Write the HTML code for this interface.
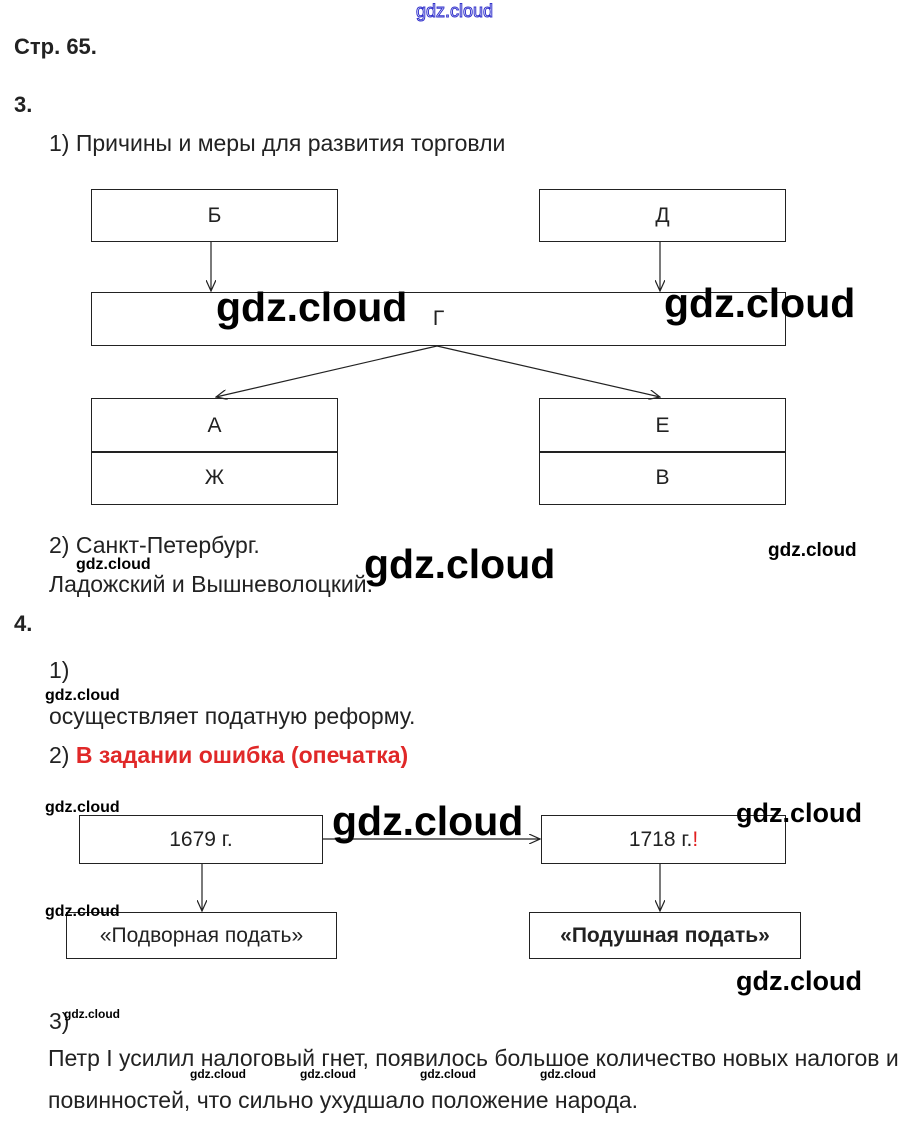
<!DOCTYPE html>
<html><head><meta charset="utf-8"><style>
body{margin:0;width:908px;height:1125px;background:#fff;position:relative;font-family:"Liberation Sans",Arial,sans-serif;color:#222;overflow:hidden}
.t{position:absolute;white-space:nowrap;font-size:23px;line-height:1}
.b{font-weight:bold}
.w{position:absolute;white-space:nowrap;font-weight:bold;color:#000;line-height:1;font-family:"Liberation Sans",sans-serif}
.big{font-size:41px}
.sm{font-size:16px}
.xs{font-size:12px}
.box{position:absolute;border:1.5px solid #222;box-sizing:border-box;display:flex;align-items:center;justify-content:center;font-size:21px}
svg{position:absolute;left:0;top:0}
</style></head><body>
<div class="t" style="left:416px;top:2px;font-size:18px;color:#fff;-webkit-text-stroke:1px #3333cc">gdz.cloud</div>
<div class="t b" style="left:14px;top:36px;font-size:22px">Стр. 65.</div>
<div class="t b" style="left:14px;top:94px;font-size:22px">3.</div>
<div class="t" style="left:49px;top:132px">1) Причины и меры для развития торговли</div>

<div class="box" style="left:91px;top:189px;width:247px;height:53px">Б</div>
<div class="box" style="left:539px;top:189px;width:247px;height:53px">Д</div>
<div class="box" style="left:91px;top:292px;width:695px;height:54px">Г</div>
<div class="box" style="left:91px;top:398px;width:247px;height:55px">А</div>
<div class="box" style="left:91px;top:451px;width:247px;height:54px">Ж</div>
<div class="box" style="left:539px;top:398px;width:247px;height:55px">Е</div>
<div class="box" style="left:539px;top:451px;width:247px;height:54px">В</div>

<div class="box" style="left:79px;top:815px;width:244px;height:49px">1679 г.</div>
<div class="box" style="left:541px;top:815px;width:245px;height:49px">1718 г.<span style="color:#e02020">!</span></div>
<div class="box" style="left:66px;top:912px;width:271px;height:47px">«Подворная подать»</div>
<div class="box b" style="left:529px;top:912px;width:272px;height:47px">«Подушная подать»</div>

<svg width="908" height="1125">
<defs><marker id="a" markerWidth="12" markerHeight="10" refX="11" refY="5" orient="auto" markerUnits="userSpaceOnUse"><path d="M0,0 L11,5 L0,10" fill="none" stroke="#222" stroke-width="1.2"/></marker></defs>
<g stroke="#222" stroke-width="1.2" fill="none">
<line x1="211" y1="242" x2="211" y2="291" marker-end="url(#a)"/>
<line x1="660" y1="242" x2="660" y2="291" marker-end="url(#a)"/>
<line x1="437" y1="346" x2="216" y2="397" marker-end="url(#a)"/>
<line x1="437" y1="346" x2="660" y2="397" marker-end="url(#a)"/>
<line x1="323" y1="839" x2="540" y2="839" marker-end="url(#a)"/>
<line x1="202" y1="864" x2="202" y2="911" marker-end="url(#a)"/>
<line x1="660" y1="864" x2="660" y2="911" marker-end="url(#a)"/>
</g></svg>

<div class="t" style="left:49px;top:534px">2) Санкт-Петербург.</div>
<div class="t" style="left:49px;top:573px">Ладожский и Вышневолоцкий.</div>
<div class="t b" style="left:14px;top:613px;font-size:22px">4.</div>
<div class="t" style="left:49px;top:659px">1)</div>
<div class="t" style="left:49px;top:705px">осуществляет податную реформу.</div>
<div class="t" style="left:49px;top:744px">2) <span class="b" style="color:#e02828">В задании ошибка (опечатка)</span></div>
<div class="t" style="left:49px;top:1010px">3)</div>
<div class="t" style="left:48px;top:1047px">Петр I усилил налоговый гнет, появилось большое количество новых налогов и</div>
<div class="t" style="left:48px;top:1089px">повинностей, что сильно ухудшало положение народа.</div>

<div class="w big" style="left:216px;top:287px">gdz.cloud</div>
<div class="w big" style="left:664px;top:283px">gdz.cloud</div>
<div class="w big" style="left:364px;top:544px">gdz.cloud</div>
<div class="w big" style="left:332px;top:801px">gdz.cloud</div>
<div class="w" style="left:736px;top:800px;font-size:27px">gdz.cloud</div>
<div class="w" style="left:736px;top:968px;font-size:27px">gdz.cloud</div>
<div class="w" style="left:768px;top:541px;font-size:19px">gdz.cloud</div>
<div class="w sm" style="left:76px;top:557px">gdz.cloud</div>
<div class="w sm" style="left:45px;top:688px">gdz.cloud</div>
<div class="w sm" style="left:45px;top:800px">gdz.cloud</div>
<div class="w sm" style="left:45px;top:904px">gdz.cloud</div>
<div class="w xs" style="left:64px;top:1008px">gdz.cloud</div>
<div class="w xs" style="left:190px;top:1068px">gdz.cloud</div>
<div class="w xs" style="left:300px;top:1068px">gdz.cloud</div>
<div class="w xs" style="left:420px;top:1068px">gdz.cloud</div>
<div class="w xs" style="left:540px;top:1068px">gdz.cloud</div>
</body></html>
